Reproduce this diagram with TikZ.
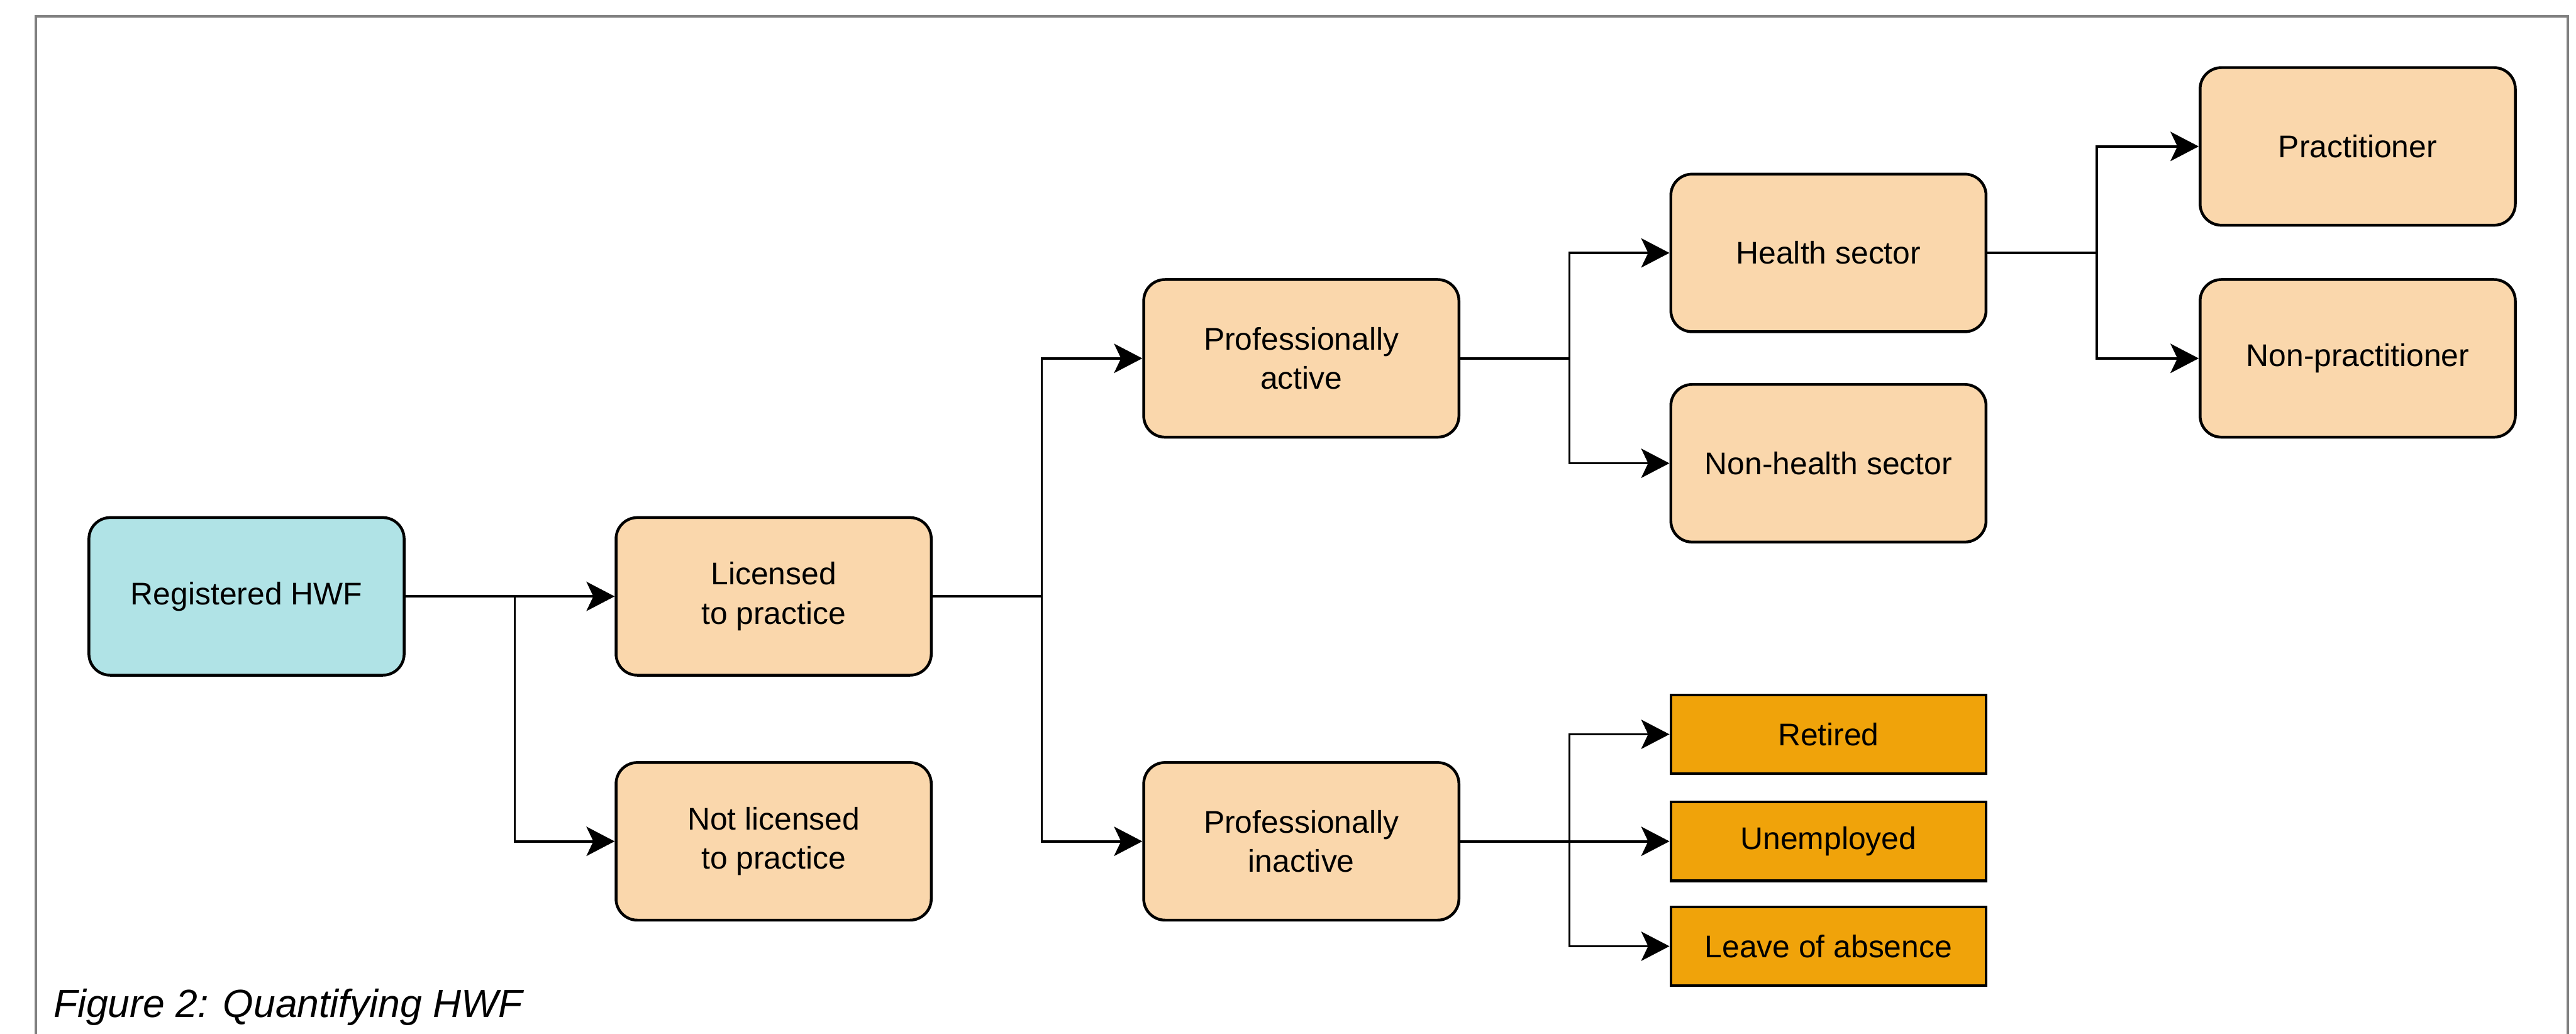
\documentclass[tikz,border=0pt]{standalone}
\usepackage{fontspec}
\setmainfont{Liberation Sans}
\usepackage{tikz}
\usetikzlibrary{arrows.meta}
\usepackage{xcolor}
\definecolor{frame_grey}{HTML}{808080}
\definecolor{hwf_teal}{HTML}{B0E3E6}
\definecolor{hwf_peach}{HTML}{FAD7AC}
\definecolor{hwf_orange}{HTML}{F0A30A}

\begin{document}
\begin{tikzpicture}[
    hwfbox/.style={draw=black, line width=1.5pt, fill=hwf_peach, rounded corners=0.4cm,
        minimum width=5.92cm, minimum height=2.96cm, align=center,
        font=\fontsize{16.75}{21}\selectfont},
    statusbox/.style={draw=black, line width=1.5pt, fill=hwf_orange,
        minimum width=5.92cm, minimum height=1.48cm, align=center,
        font=\fontsize{16.75}{21}\selectfont},
    link/.style={line width=1.25pt, -{Stealth[length=0.53cm, width=0.55cm, inset=0.13cm]}}
]
	\useasboundingbox (0,0) rectangle (48.38,-19.41);
	\draw [frame_grey, line width=0.05cm] (0.67,-19.5) -- (0.67,-0.31) -- (48.23,-0.31) -- (48.23,-19.5);

	\node [hwfbox, fill=hwf_teal] (reg) at (4.63,-11.20) {Registered HWF};
	\node [hwfbox] (lic) at (14.53,-11.20) {Licensed\\to practice};
	\node [hwfbox] (notlic) at (14.53,-15.80) {Not licensed\\to practice};
	\node [hwfbox] (active) at (24.44,-6.73) {Professionally\\active};
	\node [hwfbox] (inactive) at (24.44,-15.80) {Professionally\\inactive};
	\node [hwfbox] (health) at (34.34,-4.75) {Health sector};
	\node [hwfbox] (nonhealth) at (34.34,-8.70) {Non-health sector};
	\node [statusbox] (retired) at (34.34,-13.79) {Retired};
	\node [statusbox] (unemployed) at (34.34,-15.80) {Unemployed};
	\node [statusbox] (leave) at (34.34,-17.77) {Leave of absence};
	\node [hwfbox] (pract) at (44.28,-2.75) {Practitioner};
	\node [hwfbox] (nonpract) at (44.28,-6.73) {Non-practitioner};

	\draw [link] (reg.east) -- (lic.west);
	\draw [link] (reg.east) -- ++(2.05,0) |- (notlic.west);
	\draw [link] (lic.east) -- ++(2.05,0) |- (active.west);
	\draw [link] (lic.east) -- ++(2.05,0) |- (inactive.west);
	\draw [link] (active.east) -- ++(2.05,0) |- (health.west);
	\draw [link] (active.east) -- ++(2.05,0) |- (nonhealth.west);
	\draw [link] (inactive.east) -- ++(2.05,0) |- (retired.west);
	\draw [link] (inactive.east) -- (unemployed.west);
	\draw [link] (inactive.east) -- ++(2.05,0) |- (leave.west);
	\draw [link] (health.east) -- ++(2.05,0) |- (pract.west);
	\draw [link] (health.east) -- ++(2.05,0) |- (nonpract.west);

	\node [anchor=base west, font=\fontsize{21}{25}\selectfont\itshape] (caption) at (0.88,-19.10) {Figure 2: Quantifying HWF};
\end{tikzpicture}
\end{document}
